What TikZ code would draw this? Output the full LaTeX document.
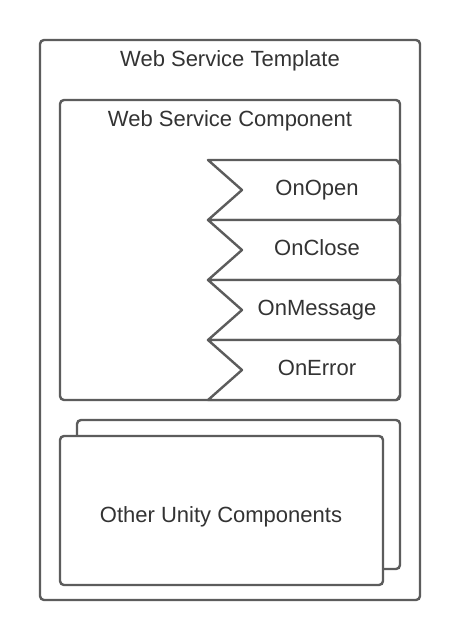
\documentclass[tikz,border=0pt]{standalone}
\usepackage{fontspec}
\setmainfont{Liberation Sans}
\definecolor{linec}{RGB}{92,92,92}
\definecolor{textc}{RGB}{51,51,51}
\begin{document}
\begin{tikzpicture}[x=1pt,y=-1pt,
  box/.style={draw=linec,line width=2.4pt,rounded corners=4pt,fill=white},
  lbl/.style={text=textc,font=\fontsize{22}{26}\selectfont,inner sep=0pt,anchor=base},
  tabshape/.style={draw=linec,line width=2.4pt,fill=white,line join=round}]
\useasboundingbox (0,0) rectangle (460,643);
\fill[white] (0,0) rectangle (460,643);
% outer template
\draw[box] (40,40) rectangle (420,600);
\node[lbl] (tpl) at (230,66) {Web Service Template};
% component
\draw[box] (60,100) rectangle (400,400);
\node[lbl] (comp) at (230,126) {Web Service Component};
% tabs
\foreach \t/\name/\txt in {160/open/OnOpen,220/close/OnClose,280/msg/OnMessage,340/err/OnError}{
  \draw[tabshape] (208,\t) -- (396,\t) to[out=0,in=-90] (400,\t+4) -- (400,\t+56) to[out=90,in=0] (396,\t+60) -- (208,\t+60) -- (242,\t+30) -- cycle;
  \node[lbl] (\name) at (317,\t+35) {\txt};
}
% other components stack
\draw[box] (77,420) rectangle (400,569);
\draw[box] (60,436) rectangle (383,585);
\node[lbl] (other) at (221,522) {Other Unity Components};
\end{tikzpicture}
\end{document}
